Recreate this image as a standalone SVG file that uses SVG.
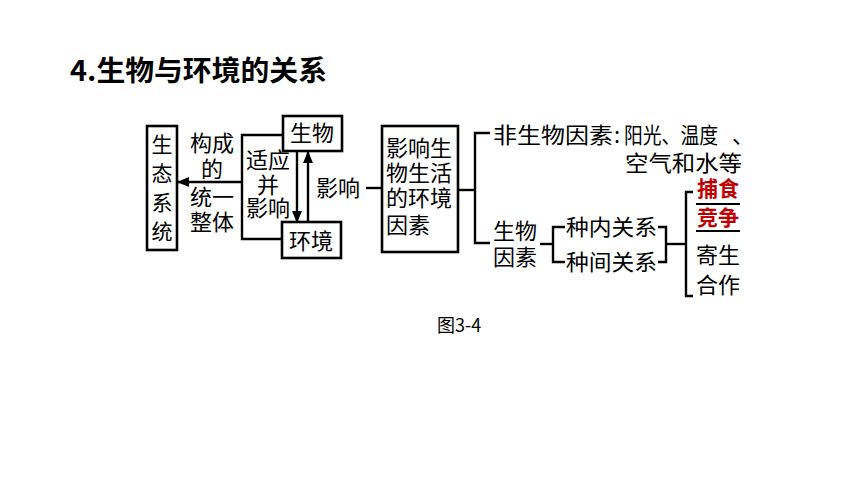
<svg xmlns="http://www.w3.org/2000/svg" width="860" height="484" viewBox="0 0 860 484">
<defs>
<marker id="ah" markerUnits="userSpaceOnUse" markerWidth="12" markerHeight="10" refX="11" refY="5" orient="auto">
<path d="M0,0 L12,5 L0,10 Z" fill="#000"/>
</marker>
<style>
.t{font-family:"Noto Sans CJK SC","Liberation Sans",sans-serif;font-size:21px;fill:#000;}
.m{font-size:22px;}
.b{fill:#fff;stroke:#000;stroke-width:2.6;}
.l{fill:none;stroke:#000;stroke-width:2.4;}
.r{font-family:"Noto Sans CJK SC","Liberation Sans",sans-serif;font-size:21px;font-weight:bold;fill:#c00000;}
.u{stroke:#000;stroke-width:2;}
</style>
</defs>
<rect width="860" height="484" fill="#fff"/>
<text x="70" y="81" font-family="'Noto Sans CJK SC','Liberation Sans',sans-serif" font-size="28" font-weight="bold" textLength="257" lengthAdjust="spacingAndGlyphs">4.生物与环境的关系</text>

<g id="connectors">
<line class="l" x1="242" y1="182" x2="178" y2="182" marker-end="url(#ah)"/>
<line class="l" x1="297" y1="151" x2="297" y2="222" marker-end="url(#ah)"/>
<line class="l" x1="308" y1="222" x2="308" y2="152" marker-end="url(#ah)"/>
<line class="l" x1="366" y1="188" x2="382" y2="188"/>
<polyline class="l" points="458,190 475,190"/>
<polyline class="l" points="490,133 475,133 475,243 490,243"/>
<polyline class="l" points="540,244 553,244"/>
<polyline class="l" points="565,227 553,227 553,262 565,262"/>
<polyline class="l" points="658,227 666,227 666,262 658,262"/>
<polyline class="l" points="666,244 686,244"/>
<polyline class="l" points="693,192 686,192 686,296 693,296"/>
</g>

<g id="ecosystem">
<rect class="b" x="147" y="126" width="30" height="124"/>
<text class="t" text-anchor="middle"><tspan x="162" y="152">生</tspan><tspan x="162" y="181">态</tspan><tspan x="162" y="210">系</tspan><tspan x="162" y="239">统</tspan></text>
</g>

<g id="label-form">
<text class="t m" text-anchor="middle"><tspan x="212" y="151">构成</tspan><tspan x="212" y="177">的</tspan><tspan x="212" y="205">统一</tspan><tspan x="212" y="230">整体</tspan></text>
</g>

<g id="adapt">
<polyline class="l" points="284,135 242,135 242,239 283,239"/>
<text class="t m" text-anchor="middle"><tspan x="268" y="168">适应</tspan><tspan x="268" y="193">并</tspan><tspan x="268" y="216">影响</tspan></text>
</g>

<g id="organism">
<rect class="b" x="283" y="116" width="59" height="35"/>
<text class="t m" x="312" y="141" text-anchor="middle">生物</text>
</g>

<g id="environment">
<rect class="b" x="282" y="222" width="59" height="36"/>
<text class="t m" x="311" y="249" text-anchor="middle">环境</text>
</g>

<g id="label-influence">
<text class="t m" x="338" y="196" text-anchor="middle">影响</text>
</g>

<g id="factors">
<rect class="b" x="382" y="126" width="76" height="126"/>
<text class="t m"><tspan x="386" y="156">影响生</tspan><tspan x="386" y="181">物生活</tspan><tspan x="386" y="206">的环境</tspan><tspan x="386" y="233">因素</tspan></text>
</g>

<g id="abiotic">
<text class="t m" x="493" y="143" textLength="120" lengthAdjust="spacingAndGlyphs">非生物因素</text>
<text class="t m" x="614" y="143">:</text>
<text class="t m" x="624" y="143" textLength="94" lengthAdjust="spacingAndGlyphs">阳光、温度</text>
<text class="t m" x="732" y="143">、</text>
<text class="t m" x="625" y="171" textLength="117" lengthAdjust="spacingAndGlyphs">空气和水等</text>
</g>

<g id="biotic">
<text class="t m" text-anchor="middle"><tspan x="515" y="239">生物</tspan><tspan x="515" y="265">因素</tspan></text>
</g>

<g id="intra">
<text class="t m" x="566" y="235" textLength="91" lengthAdjust="spacingAndGlyphs">种内关系</text>
</g>
<g id="inter">
<text class="t m" x="566" y="270" textLength="91" lengthAdjust="spacingAndGlyphs">种间关系</text>
</g>

<g id="relations">
<text class="r" x="718" y="196" text-anchor="middle">捕食</text>
<line class="u" x1="696" y1="204" x2="740" y2="204"/>
<text class="r" x="718" y="225" text-anchor="middle">竞争</text>
<line class="u" x1="696" y1="231" x2="740" y2="231"/>
<text class="t m" text-anchor="middle"><tspan x="718" y="263">寄生</tspan><tspan x="718" y="293">合作</tspan></text>
</g>

<text x="437" y="332" font-family="'Noto Sans CJK SC','Liberation Sans',sans-serif" font-size="18">图3-4</text>
</svg>
